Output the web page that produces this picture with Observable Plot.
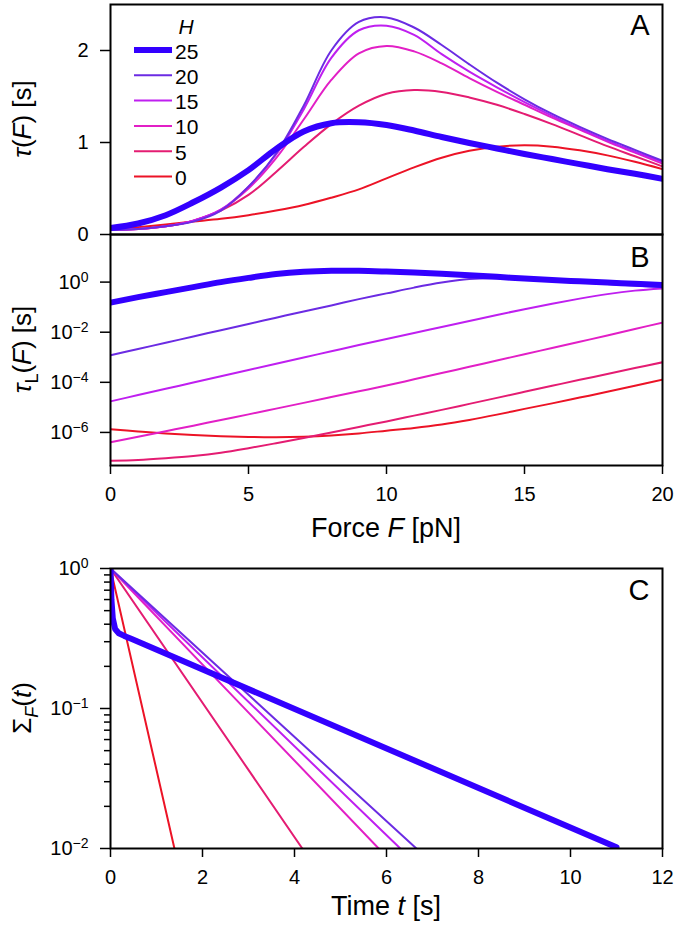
<!DOCTYPE html>
<html><head><meta charset="utf-8">
<script src="https://cdn.jsdelivr.net/npm/d3@7"></script>
<script src="https://cdn.jsdelivr.net/npm/@observablehq/plot@0.6"></script>
<style>
body{margin:0;background:#fff;}
#wrap{position:relative;width:678px;height:933px;background:#fff;overflow:hidden;}
#wrap svg{position:absolute;left:0;}
</style></head><body><div id="wrap"></div>
<script>
const FONT = '"Liberation Sans", Arial, Helvetica, sans-serif';
// Series identities (drawn bottom to top: H=0 first, H=25 last)
const H = [25, 20, 15, 10, 5, 0];
const colors = ["#3300ff", "#6b2be3", "#bf1ff0", "#e21fc6", "#e41c72", "#ec1326"];
const widths = [6, 2, 2, 2, 2, 2];

// Panel A: tau(F) [s]
const force = [0,1,2,3,4,5,6,7,8,9,10,11,12,13,14,15,16,17,18,19,20];
const tau_H25 = [0.07,0.12,0.21,0.35,0.51,0.70,0.93,1.12,1.21,1.22,1.19,1.13,1.06,0.995,0.935,0.875,0.82,0.765,0.71,0.66,0.605];
const tau_H20 = [0.05,0.06,0.09,0.14,0.26,0.52,0.88,1.40,2.00,2.31,2.36,2.25,2.06,1.85,1.65,1.47,1.31,1.17,1.04,0.92,0.80];
const tau_H15 = [0.05,0.06,0.09,0.15,0.27,0.52,0.87,1.36,1.92,2.22,2.27,2.17,1.96,1.77,1.60,1.44,1.29,1.15,1.02,0.90,0.79];
const tau_H10 = [0.05,0.06,0.09,0.15,0.27,0.50,0.83,1.25,1.68,1.97,2.05,1.99,1.86,1.70,1.55,1.41,1.27,1.14,1.01,0.89,0.77];
const tau_H5  = [0.05,0.06,0.09,0.15,0.26,0.43,0.68,0.95,1.20,1.40,1.53,1.57,1.55,1.49,1.41,1.31,1.20,1.08,0.96,0.85,0.74];
const tau_H0  = [0.05,0.08,0.11,0.14,0.17,0.21,0.26,0.32,0.40,0.49,0.61,0.73,0.835,0.91,0.955,0.97,0.955,0.915,0.86,0.79,0.71];

// Panel B: log10 of tau_L(F) [s]
const logTauL_H25 = [-0.82,-0.60,-0.40,-0.20,0.00,0.17,0.32,0.41,0.45,0.45,0.42,0.38,0.33,0.27,0.21,0.14,0.08,0.03,-0.02,-0.07,-0.12];
const logTauL_H20 = [-2.92,-2.67,-2.42,-2.17,-1.92,-1.67,-1.42,-1.17,-0.93,-0.68,-0.45,-0.22,-0.02,0.12,0.15,0.10,0.04,-0.02,-0.08,-0.14,-0.20];
const logTauL_H15 = [-4.76,-4.51,-4.26,-4.01,-3.76,-3.51,-3.26,-3.01,-2.76,-2.51,-2.27,-2.03,-1.79,-1.55,-1.31,-1.08,-0.86,-0.66,-0.48,-0.34,-0.25];
const logTauL_H10 = [-6.39,-6.17,-5.95,-5.73,-5.50,-5.28,-5.05,-4.82,-4.59,-4.36,-4.13,-3.88,-3.63,-3.38,-3.13,-2.88,-2.63,-2.38,-2.13,-1.87,-1.62];
const logTauL_H5  = [-7.13,-7.10,-7.03,-6.94,-6.81,-6.63,-6.43,-6.22,-6.00,-5.78,-5.56,-5.33,-5.10,-4.86,-4.62,-4.38,-4.14,-3.90,-3.67,-3.43,-3.20];
const logTauL_H0  = [-5.87,-5.96,-6.04,-6.10,-6.15,-6.18,-6.19,-6.17,-6.12,-6.04,-5.93,-5.82,-5.68,-5.50,-5.29,-5.06,-4.84,-4.61,-4.38,-4.14,-3.89];

// Panel C: survival Sigma_F(t)
const t_H25 = [0, 0.02, 0.05, 0.10, 0.18, 0.30, 0.45, 11.0];
const s_H25 = [1, 0.60, 0.44, 0.37, 0.345, 0.33, 0.315, 0.0102];
const t_H20 = [0, 6.65];  const s_H20 = [1, 0.01];
const t_H15 = [0, 6.30];  const s_H15 = [1, 0.01];
const t_H10 = [0, 5.83];  const s_H10 = [1, 0.01];
const t_H5  = [0, 4.17];  const s_H5  = [1, 0.01];
const t_H0  = [0, 1.39];  const s_H0  = [1, 0.01];

// Tick values
const ticksA_y = [0, 1, 2];
const ticksB_x = [0, 5, 10, 15, 20];
const ticksB_y = [1, 1e-2, 1e-4, 1e-6];
const ticksC_x = [0, 2, 4, 6, 8, 10, 12];
const ticksC_y = [1, 0.1, 0.01];
const ticksC_yMinor = [0.02,0.03,0.04,0.05,0.06,0.07,0.08,0.09,0.2,0.3,0.4,0.5,0.6,0.7,0.8,0.9];

const tauA = [tau_H25, tau_H20, tau_H15, tau_H10, tau_H5, tau_H0];
const logB = [logTauL_H25, logTauL_H20, logTauL_H15, logTauL_H10, logTauL_H5, logTauL_H0];
const tC = [t_H25, t_H20, t_H15, t_H10, t_H5, t_H0];
const sC = [s_H25, s_H20, s_H15, s_H10, s_H5, s_H0];

const order = [5, 4, 3, 2, 1, 0];
const rowsA = H.map((h, i) => force.map((f, j) => ({H: h, F: f, v: tauA[i][j]})));
const rowsB = H.map((h, i) => force.map((f, j) => ({H: h, F: f, v: Math.pow(10, logB[i][j])})));
const rowsC = H.map((h, i) => tC[i].map((t, j) => ({H: h, t: t, v: sC[i][j]})));

const supMap = {"-": "\u207B", "0": "\u2070", "1": "\u00B9", "2": "\u00B2", "3": "\u00B3", "4": "\u2074", "5": "\u2075", "6": "\u2076", "7": "\u2077", "8": "\u2078", "9": "\u2079"};
const revMap = {}; Object.keys(supMap).forEach(k => { revMap[supMap[k]] = k; });
const powFmt = d => "10" + String(Math.round(Math.log10(d))).split("").map(c => supMap[c]).join("");

const baseStyle = {fontFamily: FONT, fontSize: "20px", background: "transparent", overflow: "visible", color: "black"};
const W = 678, ML = 110, MR = 16;

function lines(rows, xKey, curve) {
  return order.map(i => Plot.line(rows[i], {x: xKey, y: "v", stroke: colors[i], strokeWidth: widths[i], curve: curve, clip: true}));
}
function panelLetter(s, dy) {
  return Plot.text([s], {text: d => d, frameAnchor: "top-right", textAnchor: "end", lineAnchor: "top", dx: -13, dy: dy, fontSize: 29, fill: "black"});
}
// turn "10⁻²" into "10" + a raised, smaller exponent
function superscriptTicks(svg) {
  d3.select(svg).selectAll("text").each(function () {
    const el = d3.select(this);
    if (el.selectAll("tspan").size() > 1) return;
    const s = el.text();
    if (!/^10[\u207B\u2070\u00B9\u00B2\u00B3\u2074-\u2079]+$/.test(s)) return;
    const exp = s.slice(2).split("").map(c => revMap[c]).join("").replace("-", "\u2212");
    const tsp = el.select("tspan");
    const target = tsp.empty() ? el : tsp;
    target.text("10");
    target.append("tspan").attr("dy", "-0.5em").style("font-size", "14px").text(exp);
  });
}

// Panel A
const svgA = Plot.plot({
  width: W, height: 240, marginLeft: ML, marginRight: MR, marginTop: 4, marginBottom: 6,
  style: baseStyle,
  x: {domain: [0, 20], axis: null},
  y: {domain: [0, 2.5], axis: null},
  marks: [
    ...lines(rowsA, "F", "catmull-rom"),
    Plot.axisY({ticks: ticksA_y, tickSize: 10, tickPadding: 12, strokeWidth: 1.5, fontSize: 20, label: null, tickFormat: d => String(d)}),
    Plot.frame({stroke: "black", strokeWidth: 2}),
    panelLetter("A", 10)
  ]
});
svgA.style.top = "0px";

// Panel B
const svgB = Plot.plot({
  width: W, height: 330, marginLeft: ML, marginRight: MR, marginTop: 6, marginBottom: 93,
  style: baseStyle,
  x: {domain: [0, 20], axis: null},
  y: {type: "log", domain: [Math.pow(10, -7.32), Math.pow(10, 1.9)], axis: null},
  marks: [
    ...lines(rowsB, "F", "catmull-rom"),
    Plot.axisY({ticks: ticksB_y, tickSize: 10, tickPadding: 12, strokeWidth: 1.5, fontSize: 20, label: null, tickFormat: powFmt}),
    Plot.axisX({ticks: ticksB_x, tickSize: 9, tickPadding: 12, strokeWidth: 1.5, fontSize: 20, label: null, tickFormat: d => String(d)}),
    Plot.frame({stroke: "black", strokeWidth: 2}),
    panelLetter("B", 12)
  ]
});
svgB.style.top = "228px";

// Panel C
const svgC = Plot.plot({
  width: W, height: 375, marginLeft: ML, marginRight: MR, marginTop: 10, marginBottom: 85,
  style: baseStyle,
  x: {domain: [0, 12], axis: null},
  y: {type: "log", domain: [0.01, 1], axis: null},
  marks: [
    ...lines(rowsC, "t", "linear"),
    Plot.axisY({ticks: ticksC_yMinor, tickSize: 6, strokeWidth: 1.5, label: null, tickFormat: () => ""}),
    Plot.axisY({ticks: ticksC_y, tickSize: 10, tickPadding: 12, strokeWidth: 1.5, fontSize: 20, label: null, tickFormat: powFmt}),
    Plot.axisX({ticks: ticksC_x, tickSize: 9, tickPadding: 12, strokeWidth: 1.5, fontSize: 20, label: null, tickFormat: d => String(d)}),
    Plot.frame({stroke: "black", strokeWidth: 2}),
    panelLetter("C", 11)
  ]
});
svgC.style.top = "558px";

const wrap = document.getElementById("wrap");
wrap.appendChild(svgA); wrap.appendChild(svgB); wrap.appendChild(svgC);
superscriptTicks(svgB); superscriptTicks(svgC);

// Rich-text labels (italics, subscripts)
function richText(svg, x, y, rotate, size, parts) {
  const t = d3.select(svg).append("text")
    .attr("transform", `translate(${x},${y})` + (rotate ? " rotate(-90)" : ""))
    .attr("text-anchor", "middle").attr("fill", "black")
    .style("font-family", FONT).style("font-size", size + "px");
  parts.forEach(p => {
    const s = t.append("tspan").text(p.t);
    if (p.i) s.style("font-style", "italic");
    if (p.sub) { s.style("font-size", Math.round(size * 0.68) + "px").attr("dy", size * 0.28); }
    if (p.back) s.attr("dy", -size * 0.28);
  });
}
// y labels (centred on each frame)
richText(svgA, 31, 119, true, 26, [{t: "\u03C4", i: true}, {t: "("}, {t: "F", i: true}, {t: ") [s]"}]);
richText(svgB, 31, 349.5 - 228, true, 26, [{t: "\u03C4", i: true}, {t: "L", sub: true}, {t: "(", back: true}, {t: "F", i: true}, {t: ") [s]"}]);
richText(svgC, 31, 708 - 558, true, 26, [{t: "\u03A3"}, {t: "F", i: true, sub: true}, {t: "(", back: true}, {t: "t", i: true}, {t: ")"}]);
// x labels
richText(svgB, 386, 537 - 228, false, 27, [{t: "Force "}, {t: "F", i: true}, {t: " [pN]"}]);
richText(svgC, 386, 915 - 558, false, 27, [{t: "Time "}, {t: "t", i: true}, {t: " [s]"}]);

// Legend inside panel A
const lg = d3.select(svgA).append("g").style("font-family", FONT).style("font-size", "21px");
lg.append("text").attr("x", 186).attr("y", 26).attr("text-anchor", "middle").attr("dominant-baseline", "central").attr("fill", "black").style("font-style", "italic").text("H");
H.forEach((h, i) => {
  const y = 50 + i * 25.3;
  lg.append("line").attr("x1", 134).attr("x2", 172).attr("y1", y).attr("y2", y).attr("stroke", colors[i]).attr("stroke-width", widths[i]);
  lg.append("text").attr("x", 175).attr("y", y + 1).attr("text-anchor", "start").attr("dominant-baseline", "central").attr("fill", "black").text(String(h));
});
</script></body></html>
